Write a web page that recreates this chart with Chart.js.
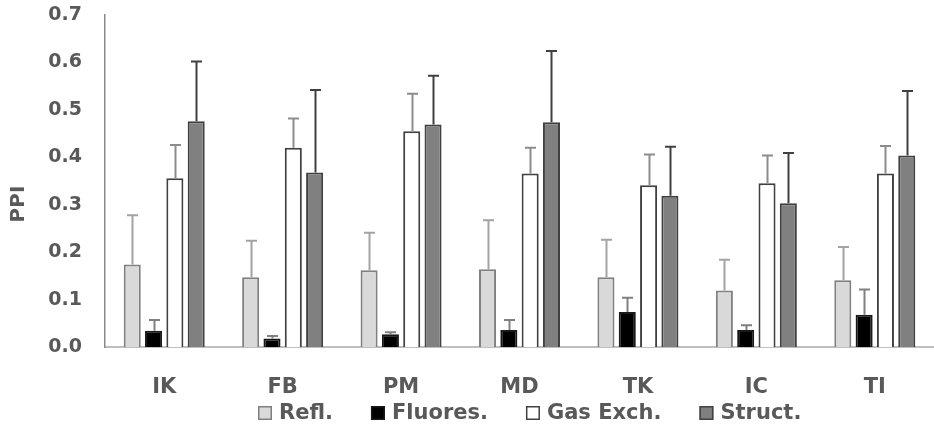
<!DOCTYPE html>
<html>
<head>
<meta charset="utf-8">
<script src="https://cdn.jsdelivr.net/npm/chart.js@4.4.1/dist/chart.umd.min.js"></script>
<style>
  html, body { margin: 0; padding: 0; background: #ffffff; }
  #c { display: block; }
</style>
</head>
<body>
<canvas id="c" width="934" height="428"></canvas>
<script>
// Site groups along the x axis
const categories = ['IK', 'FB', 'PM', 'MD', 'TK', 'IC', 'TI'];

// Mean PPI per method
const refl    = [0.174, 0.147, 0.162, 0.164, 0.147, 0.119, 0.141];
const fluores = [0.034, 0.018, 0.027, 0.036, 0.074, 0.036, 0.068];
const gasExch = [0.356, 0.420, 0.455, 0.366, 0.341, 0.345, 0.366];
const struct  = [0.476, 0.368, 0.469, 0.474, 0.319, 0.303, 0.404];

// Upper error (standard deviation) per method
const reflErr    = [0.104, 0.077, 0.079, 0.103, 0.079, 0.065, 0.070];
const fluoresErr = [0.023, 0.005, 0.004, 0.021, 0.030, 0.010, 0.053];
const gasExchErr = [0.070, 0.062, 0.079, 0.054, 0.065, 0.059, 0.058];
const structErr  = [0.126, 0.174, 0.103, 0.150, 0.103, 0.106, 0.136];

// Legend labels and y-axis ticks
const seriesNames = ['Refl.', 'Fluores.', 'Gas Exch.', 'Struct.'];
const yTicks = [0.0, 0.1, 0.2, 0.3, 0.4, 0.5, 0.6, 0.7];
const yTitle = 'PPI';

const TEXT = '#595959';
const FONT = '"DejaVu Sans", "Liberation Sans", sans-serif';

const styles = [
  { fill: '#d9d9d9', border: '#808080', err: '#a3a3a3' },
  { fill: '#000000', border: '#1a1a1a', err: '#808080' },
  { fill: '#ffffff', border: '#404040', err: '#8c8c8c' },
  { fill: '#808080', border: '#404040', err: '#404040' }
];

const values = [refl, fluores, gasExch, struct];
const errors = [reflErr, fluoresErr, gasExchErr, structErr];

const datasets = values.map((v, i) => ({
  label: seriesNames[i],
  data: v,
  errors: errors[i],
  backgroundColor: styles[i].fill,
  borderColor: styles[i].border,
  borderWidth: 2,
  errColor: styles[i].err,
  categoryPercentage: 0.72,
  barPercentage: 0.8
}));

// Upward error whiskers with a short cap
const errorBars = {
  id: 'errorBars',
  afterDatasetsDraw(chart) {
    const ctx = chart.ctx;
    const y = chart.scales.y;
    chart.data.datasets.forEach((ds, i) => {
      const meta = chart.getDatasetMeta(i);
      meta.data.forEach((bar, j) => {
        const top = y.getPixelForValue(ds.data[j] + ds.errors[j]);
        const x = Math.round(bar.x) + 0.5;
        ctx.save();
        ctx.strokeStyle = ds.errColor;
        ctx.lineWidth = 2;
        ctx.beginPath();
        ctx.moveTo(x, bar.y);
        ctx.lineTo(x, top);
        ctx.moveTo(x - 5.5, top);
        ctx.lineTo(x + 5.5, top);
        ctx.stroke();
        ctx.restore();
      });
    });
  }
};

// Rotated axis title and the legend row underneath the categories
const extras = {
  id: 'extras',
  afterDraw(chart) {
    const ctx = chart.ctx;
    ctx.save();
    ctx.fillStyle = TEXT;
    ctx.font = 'bold 20px ' + FONT;
    ctx.textAlign = 'center';
    ctx.textBaseline = 'middle';
    ctx.translate(19, 204);
    ctx.rotate(-Math.PI / 2);
    ctx.fillText(yTitle, 0, 0);
    ctx.restore();

    ctx.save();
    ctx.font = 'bold 21px ' + FONT;
    ctx.textBaseline = 'middle';
    const box = 14, gapText = 7, gapItem = 38;
    const ds = chart.data.datasets;
    const widths = ds.map(d => ctx.measureText(d.label).width);
    let total = 0;
    widths.forEach((w, i) => { total += box + gapText + w + (i < widths.length - 1 ? gapItem : 0); });
    let x = Math.round(530 - total / 2);
    const cy = 413;
    ds.forEach((d, i) => {
      ctx.fillStyle = d.backgroundColor;
      ctx.fillRect(x, cy - box / 2, box, box);
      ctx.strokeStyle = d.borderColor;
      ctx.lineWidth = 1.5;
      ctx.strokeRect(x + 0.75, cy - box / 2 + 0.75, box - 1.5, box - 1.5);
      ctx.fillStyle = TEXT;
      ctx.textAlign = 'left';
      ctx.fillText(d.label, x + box + gapText, cy + 1);
      x += box + gapText + widths[i] + gapItem;
    });
    ctx.restore();
  }
};

new Chart(document.getElementById('c'), {
  type: 'bar',
  data: { labels: categories, datasets },
  plugins: [errorBars, extras],
  options: {
    responsive: false,
    animation: false,
    devicePixelRatio: 1,
    layout: { padding: { top: 15, right: 0, bottom: 0, left: 0 } },
    plugins: { legend: { display: false }, tooltip: { enabled: false } },
    scales: {
      x: {
        grid: { display: false, drawTicks: false },
        border: { display: true, color: '#bfbfbf', width: 2 },
        ticks: {
          color: TEXT,
          font: { family: FONT, size: 21, weight: 'bold' },
          padding: 28,
          maxRotation: 0
        },
        afterFit(scale) {
          scale.height = 81;
          scale.paddingLeft = 0;
          scale.paddingRight = 0;
        }
      },
      y: {
        min: 0,
        max: 0.7,
        grid: { display: false, drawTicks: false },
        border: { display: true, color: '#8a8a8a', width: 1.5 },
        afterBuildTicks(scale) { scale.ticks = yTicks.map(v => ({ value: v })); },
        ticks: {
          color: TEXT,
          font: { family: FONT, size: 19, weight: 'bold' },
          padding: 23,
          callback: v => Number(v).toFixed(1)
        },
        afterFit(scale) {
          scale.width = 105;
          scale.paddingTop = 0;
          scale.paddingBottom = 0;
        }
      }
    }
  }
});
</script>
</body>
</html>
